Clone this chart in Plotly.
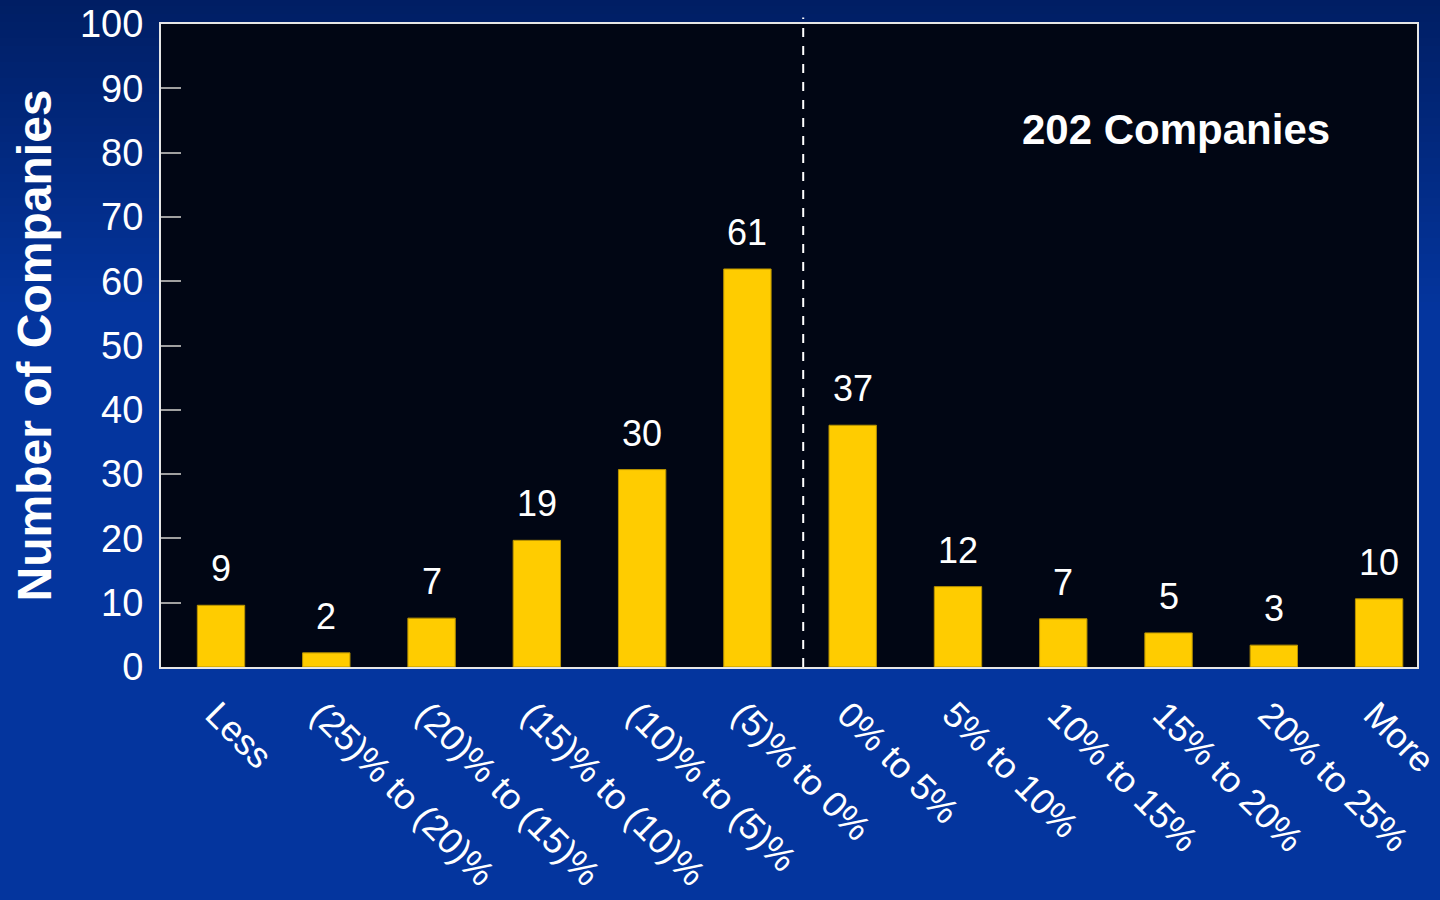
import plotly.graph_objects as go

categories = ["Less", "(25)% to (20)%", "(20)% to (15)%", "(15)% to (10)%", "(10)% to (5)%",
              "(5)% to 0%", "0% to 5%", "5% to 10%", "10% to 15%", "15% to 20%", "20% to 25%", "More"]
counts = [9, 2, 7, 19, 30, 61, 37, 12, 7, 5, 3, 10]
bar_heights = [9.6, 2.2, 7.6, 19.7, 30.7, 61.9, 37.6, 12.5, 7.5, 5.3, 3.4, 10.6]
y_ticks = [0, 10, 20, 30, 40, 50, 60, 70, 80, 90, 100]
total_label = "202 Companies"

W, H = 1440, 900
L, R, T, B = 161, 23, 24, 233
pw, ph = W - L - R, H - T - B

FONT = "Liberation Sans, Arial, sans-serif"

fig = go.Figure()
fig.add_trace(go.Bar(
    x=categories, y=bar_heights, width=0.45,
    marker=dict(color="#FFCC00", line=dict(color="#B89200", width=1)),
    hoverinfo="skip", showlegend=False,
))

shapes = []
# background gradient bands (decoration)
n = 40
top_c = (0, 30, 100)
bot_c = (4, 53, 158)
gh = 320
for i in range(n):
    t = i / (n - 1)
    c = tuple(int(round(top_c[k] + (bot_c[k] - top_c[k]) * t)) for k in range(3))
    py0 = gh * i / n
    py1 = gh * (i + 1) / n + 1
    shapes.append(dict(type="rect", xref="paper", yref="paper",
                       x0=-L / pw - 0.01, x1=(W - L) / pw + 0.01,
                       y0=(H - B - py1) / ph, y1=(H - B - py0 + 2) / ph,
                       fillcolor="rgb(%d,%d,%d)" % c, line=dict(width=0), layer="below"))
# plot area
shapes.append(dict(type="rect", xref="paper", yref="paper", x0=0, x1=1, y0=0, y1=1,
                   fillcolor="#010614", line=dict(width=0), layer="below"))
# dashed divider
shapes.append(dict(type="line", xref="x", yref="paper", x0=5.53, x1=5.53, y0=0, y1=1.01,
                   line=dict(color="white", width=2, dash="dash"), layer="above"))

annotations = []
for c, h, v in zip(categories, bar_heights, counts):
    annotations.append(dict(x=c, y=h, xref="x", yref="y", text=str(v), showarrow=False,
                            yanchor="bottom", yshift=14,
                            font=dict(family=FONT, size=36, color="white")))
annotations.append(dict(x=(1020 - L) / pw, y=(H - B - 129) / ph, xref="paper", yref="paper",
                        xanchor="left", yanchor="middle", text="<b>%s</b>" % total_label,
                        showarrow=False, font=dict(family=FONT, size=42, color="white")))
annotations.append(dict(x=(34 - L) / pw, y=0.5, xref="paper", yref="paper", xanchor="center",
                        yanchor="middle", textangle=-90, text="<b>Number of Companies</b>",
                        showarrow=False, font=dict(family=FONT, size=48, color="white")))

fig.update_layout(
    width=W, height=H,
    margin=dict(l=L, r=R, t=T, b=B, autoexpand=False),
    paper_bgcolor="rgb(4,53,158)",
    plot_bgcolor="#010614",
    shapes=shapes,
    annotations=annotations,
    bargap=0.55,
    xaxis=dict(type="category", range=[-0.57, 11.36], tickangle=45, automargin=False,
               ticklabelstandoff=10, ticklabelshift=-5,
               tickfont=dict(family=FONT, size=36, color="white"),
               showline=True, mirror=True, linecolor="#E6E6E6", linewidth=2,
               ticks="", showgrid=False, zeroline=False, fixedrange=True),
    yaxis=dict(range=[0, 100], tickvals=y_ticks, ticks="inside", ticklen=20,
               tickcolor="#A0A0A0", tickwidth=2, automargin=False,
               ticklabelstandoff=8,
               tickfont=dict(family=FONT, size=38, color="white"),
               showline=True, mirror=True, linecolor="#E6E6E6", linewidth=2,
               showgrid=False, zeroline=False, fixedrange=True),
)

fig.write_html("out.html")
